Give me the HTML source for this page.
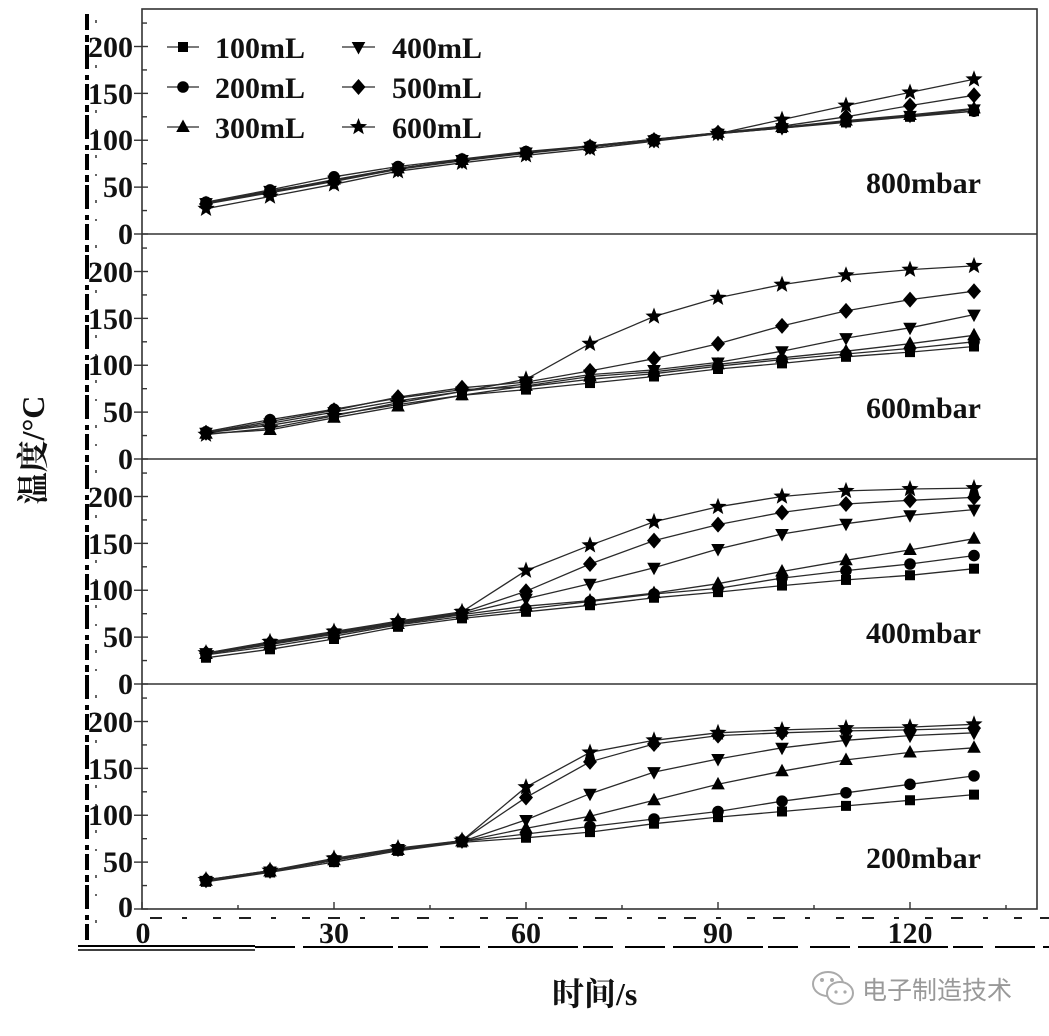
<!DOCTYPE html>
<html><head><meta charset="utf-8"><style>
html,body{margin:0;padding:0;background:#fff;}
svg{display:block;}
.t{font-family:"Liberation Serif","Noto Serif CJK SC",serif;font-weight:bold;fill:#111;}
</style></head><body>
<svg id="c" width="1049" height="1036" viewBox="0 0 1049 1036" xmlns="http://www.w3.org/2000/svg">
<rect width="1049" height="1036" fill="#fff"/>
<!-- artifacts -->
<line x1="87" y1="14" x2="87" y2="940" stroke="#000" stroke-width="4" stroke-dasharray="16 5 7 3 24 6 5 4"/>
<line x1="96" y1="20" x2="96" y2="930" stroke="#000" stroke-width="1.2" stroke-dasharray="3 16 2 24"/>
<line x1="78" y1="946" x2="255" y2="946" stroke="#000" stroke-width="2"/>
<line x1="78" y1="950" x2="255" y2="950" stroke="#000" stroke-width="1.5"/>
<line x1="255" y1="947" x2="1049" y2="947" stroke="#000" stroke-width="2" stroke-dasharray="40 8 90 5 30 12"/>
<line x1="150" y1="918" x2="1049" y2="918" stroke="#000" stroke-width="1.8" stroke-dasharray="12 20 5 26 8 18"/>
<g id="frame" fill="none" stroke="#333" stroke-width="1.6">
<rect x="142" y="9" width="895" height="900"/>
<line x1="142" y1="234" x2="1037" y2="234"/>
<line x1="142" y1="459" x2="1037" y2="459"/>
<line x1="142" y1="684" x2="1037" y2="684"/>
</g>
<g id="ticks" stroke="#333" stroke-width="1.4"></g>
<g id="series"></g>
<!-- Y tick labels -->
<g class="t" font-size="30" text-anchor="end">
<text x="133" y="57">200</text><text x="133" y="104">150</text><text x="133" y="150">100</text><text x="133" y="197">50</text><text x="133" y="244">0</text>
<text x="133" y="282">200</text><text x="133" y="329">150</text><text x="133" y="375">100</text><text x="133" y="422">50</text><text x="133" y="469">0</text>
<text x="133" y="507">200</text><text x="133" y="554">150</text><text x="133" y="600">100</text><text x="133" y="647">50</text><text x="133" y="694">0</text>
<text x="133" y="732">200</text><text x="133" y="779">150</text><text x="133" y="825">100</text><text x="133" y="872">50</text><text x="133" y="917">0</text>
</g>
<!-- X tick labels -->
<g class="t" font-size="30" text-anchor="middle">
<text x="143" y="943">0</text><text x="334" y="943">30</text><text x="526" y="943">60</text><text x="718" y="943">90</text><text x="910" y="943">120</text>
</g>
<!-- panel labels -->
<g class="t" font-size="30" text-anchor="end">
<text x="981" y="193">800mbar</text>
<text x="981" y="418">600mbar</text>
<text x="981" y="643">400mbar</text>
<text x="981" y="868">200mbar</text>
</g>
<!-- legend text -->
<g class="t" font-size="30">
<text x="215" y="58">100mL</text><text x="215" y="98">200mL</text><text x="215" y="138">300mL</text>
<text x="392" y="58">400mL</text><text x="392" y="98">500mL</text><text x="392" y="138">600mL</text>
</g>
<g id="legend"></g>
<!-- axis titles -->
<text class="t" x="552" y="1005" font-size="32">时间/s</text>
<text class="t" font-size="32" text-anchor="middle" transform="translate(44,450) rotate(-90)">温度/°C</text>
<!-- watermark -->
<g fill="none" stroke="#aaa" stroke-width="2">
<ellipse cx="828" cy="984" rx="15" ry="12"/>
<ellipse cx="840" cy="993" rx="13" ry="11" fill="#fff"/>
</g>
<g fill="#aaa"><circle cx="822" cy="980" r="2"/><circle cx="832" cy="980" r="2"/><circle cx="836" cy="992" r="1.6"/><circle cx="845" cy="992" r="1.6"/></g>
<text x="862" y="999" font-size="25" fill="#999" font-family="Liberation Sans, Noto Sans CJK SC, sans-serif">电子制造技术</text>
</svg>
<script>
(function(){
var NS="http://www.w3.org/2000/svg";
function el(tag,attrs,parent){var e=document.createElementNS(NS,tag);for(var k in attrs)e.setAttribute(k,attrs[k]);parent.appendChild(e);return e;}
var ticks=document.getElementById('ticks');
var bottoms=[234,459,684,909];
var k=225/240;
bottoms.forEach(function(b){
  for(var v=0;v<=225;v+=25){
    var y=b-v*k; if(y<b-224)continue;
    if(v%50===0) el('line',{x1:134,y1:y,x2:148,y2:y},ticks);
    else el('line',{x1:142,y1:y,x2:147,y2:y},ticks);
  }
});
for(var t=0;t<=135;t+=15){
  var x=142+6.4*t;
  el('line',{x1:x,y1:909,x2:x,y2:(t%30===0?902:905)},ticks);
}
function marker(type,cx,cy,g){
  var p;
  switch(type){
    case 0: el('rect',{x:cx-5,y:cy-5,width:10,height:10,fill:'#000'},g);break;
    case 1: el('circle',{cx:cx,cy:cy,r:5.8,fill:'#000'},g);break;
    case 2: el('polygon',{points:(cx)+','+(cy-7.5)+' '+(cx+6.8)+','+(cy+5)+' '+(cx-6.8)+','+(cy+5),fill:'#000'},g);break;
    case 3: el('polygon',{points:(cx)+','+(cy+7.5)+' '+(cx+6.8)+','+(cy-5)+' '+(cx-6.8)+','+(cy-5),fill:'#000'},g);break;
    case 4: el('polygon',{points:(cx)+','+(cy-8)+' '+(cx+7)+','+(cy)+' '+(cx)+','+(cy+8)+' '+(cx-7)+','+(cy),fill:'#000'},g);break;
    case 5:
      p=[];for(var i=0;i<10;i++){var r=(i%2===0)?9:3.8;var a=-Math.PI/2+i*Math.PI/5;p.push((cx+r*Math.cos(a)).toFixed(2)+','+(cy+r*Math.sin(a)).toFixed(2));}
      el('polygon',{points:p.join(' '),fill:'#000'},g);break;
  }
}
var D=[
 [[33,45,57,70,79,87,93,100,107,113,119,125,131],
  [34,47,61,72,80,88,94,101,108,114,120,126,131],
  [33,45,58,70,79,87,94,101,108,114,121,127,134],
  [33,46,57,70,79,87,93,100,107,113,120,126,133],
  [32,44,56,69,78,86,93,100,108,115,125,137,148],
  [27,40,53,67,76,84,91,99,107,122,137,151,165]],
 [[28,36,47,58,68,74,81,88,96,102,109,114,120],
  [29,42,53,65,74,77,85,91,99,106,112,118,125],
  [27,31,44,56,68,78,88,93,101,108,115,123,132],
  [28,38,50,62,72,80,90,95,103,115,129,140,154],
  [28,40,52,66,76,82,94,107,123,142,158,170,179],
  [26,33,46,60,72,85,123,152,172,186,196,202,206]],
 [[28,37,48,61,70,77,84,92,98,105,111,116,123],
  [31,40,51,63,72,80,88,96,102,113,121,128,137],
  [32,42,53,64,74,83,89,97,107,120,132,143,155],
  [33,43,54,65,75,91,107,124,144,160,171,180,186],
  [33,44,55,66,76,99,128,153,170,183,192,196,199],
  [33,45,56,67,77,121,148,173,189,200,206,208,209]],
 [[29,39,50,62,71,76,82,91,98,104,110,116,122],
  [30,40,52,63,72,80,88,96,104,115,124,133,142],
  [30,40,52,63,72,86,99,116,133,147,159,167,172],
  [30,40,52,64,72,95,123,146,160,172,180,185,188],
  [31,41,53,64,73,119,157,176,185,188,190,191,193],
  [31,41,54,65,73,130,167,180,188,191,193,194,197]]
];
var sg=document.getElementById('series');
D.forEach(function(panel,pi){
  var b=bottoms[pi];
  var lg=el('g',{},sg), mg=el('g',{},sg);
  panel.forEach(function(vals,si){
    var pts=vals.map(function(v,i){return [142+6.4*(10+10*i), b-v*k];});
    el('polyline',{points:pts.map(function(q){return q[0].toFixed(1)+','+q[1].toFixed(1);}).join(' '),fill:'none',stroke:'#2a2a2a','stroke-width':1.3},lg);
  });
  panel.forEach(function(vals,si){
    vals.forEach(function(v,i){marker(si,142+6.4*(10+10*i),b-v*k,mg);});
  });
});
var lg=document.getElementById('legend');
var rows=[47,87,127];
for(var i=0;i<6;i++){
  var col=i<3?0:1, row=i%3;
  var x1=col?342:167, x2=col?375:199, y=rows[row];
  el('line',{x1:x1,y1:y,x2:x2,y2:y,stroke:'#2a2a2a','stroke-width':1.3},lg);
  marker(i,(x1+x2)/2,y,lg);
}
})();
</script>
</body></html>
